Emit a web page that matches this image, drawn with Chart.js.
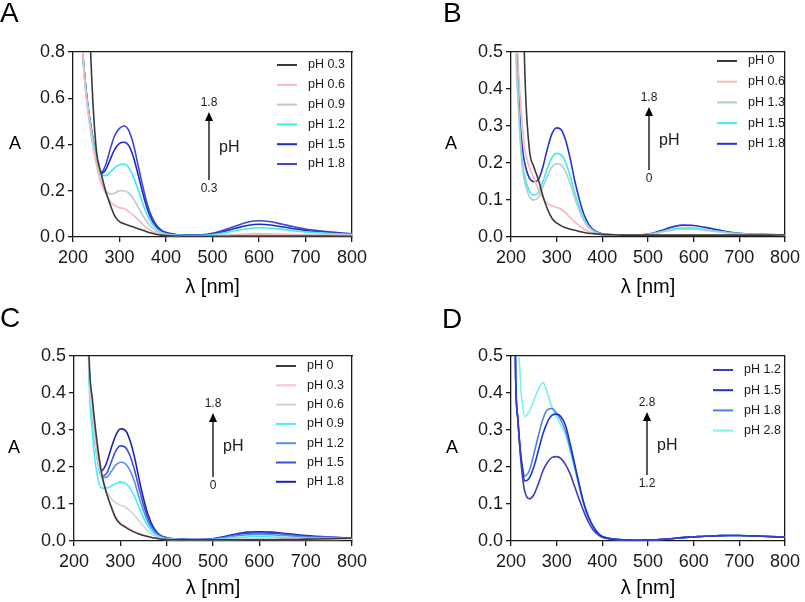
<!DOCTYPE html>
<html>
<head>
<meta charset="utf-8">
<script src="https://cdn.jsdelivr.net/npm/chart.js@4/dist/chart.umd.min.js"></script>
<style>
  html, body { margin: 0; padding: 0; background: #fff; }
  #wrap { position: relative; width: 805px; height: 602px; overflow: hidden; }
  canvas { position: absolute; }
</style>
</head>
<body>
<div id="wrap">
  <canvas id="cA" width="400" height="300" style="left:0;top:0"></canvas>
  <canvas id="cB" width="405" height="300" style="left:400px;top:0"></canvas>
  <canvas id="cC" width="400" height="302" style="left:0;top:300px"></canvas>
  <canvas id="cD" width="405" height="302" style="left:400px;top:300px"></canvas>
</div>
<script>
// wavelength grid (nm), shared by all panels
const wavelengths = [205,210,215,220,225,230,240,250,260,270,280,290,300,310,320,330,340,350,360,370,380,390,400,425,450,475,500,525,550,575,600,625,650,675,700,750,800];

// Panel A
const labelsA = ['pH 0.3','pH 0.6','pH 0.9','pH 1.2','pH 1.5','pH 1.8'];
const a_ph03 = [3,3,3,2.5,1.8,1.3,0.7,0.38,0.28,0.2,0.14,0.09,0.066,0.057,0.05,0.043,0.036,0.029,0.022,0.016,0.011,0.008,0.006,0.004,0.003,0.003,0.003,0.003,0.004,0.004,0.004,0.004,0.004,0.004,0.004,0.004,0.003];
const a_ph06 = [3,2,1.3,0.85,0.68,0.58,0.43,0.32,0.235,0.19,0.155,0.135,0.127,0.122,0.11,0.094,0.075,0.055,0.038,0.025,0.016,0.01,0.007,0.005,0.004,0.004,0.005,0.006,0.008,0.009,0.01,0.009,0.009,0.008,0.008,0.007,0.006];
const a_ph09 = [3,2,1.3,0.85,0.68,0.58,0.43,0.32,0.24,0.2,0.186,0.19,0.2,0.2,0.19,0.165,0.13,0.093,0.063,0.04,0.025,0.016,0.01,0.006,0.005,0.005,0.006,0.008,0.011,0.013,0.014,0.013,0.012,0.011,0.01,0.009,0.008];
const a_ph12 = [3,2,1.3,0.85,0.7,0.6,0.46,0.35,0.272,0.265,0.28,0.3,0.312,0.315,0.3,0.26,0.205,0.145,0.093,0.057,0.034,0.021,0.014,0.008,0.006,0.007,0.01,0.018,0.028,0.036,0.04,0.038,0.033,0.027,0.022,0.016,0.012];
const a_ph15 = [3,2,1.3,0.85,0.7,0.6,0.46,0.35,0.275,0.29,0.335,0.38,0.405,0.41,0.395,0.345,0.27,0.19,0.12,0.072,0.043,0.026,0.017,0.009,0.007,0.008,0.013,0.024,0.038,0.05,0.055,0.052,0.044,0.036,0.028,0.019,0.013];
const a_ph18 = [3,2,1.3,0.85,0.7,0.6,0.46,0.35,0.278,0.31,0.38,0.44,0.47,0.48,0.46,0.4,0.31,0.22,0.14,0.085,0.05,0.03,0.02,0.01,0.008,0.009,0.016,0.03,0.048,0.064,0.07,0.066,0.055,0.044,0.034,0.022,0.014];

// Panel B
const labelsB = ['pH 0','pH 0.6','pH 1.3','pH 1.5','pH 1.8'];
const b_ph0  = [3,3,2.5,1.5,0.8,0.46,0.24,0.19,0.155,0.11,0.075,0.05,0.038,0.03,0.025,0.021,0.018,0.015,0.012,0.01,0.009,0.008,0.007,0.006,0.005,0.005,0.005,0.005,0.005,0.005,0.005,0.005,0.005,0.005,0.005,0.005,0.006];
const b_ph06 = [2,0.8,0.5,0.38,0.3,0.24,0.19,0.16,0.128,0.105,0.09,0.084,0.08,0.075,0.065,0.052,0.04,0.03,0.021,0.015,0.01,0.008,0.006,0.005,0.005,0.005,0.005,0.005,0.005,0.005,0.005,0.005,0.005,0.005,0.005,0.005,0.005];
const b_ph13 = [2,0.6,0.38,0.26,0.185,0.15,0.11,0.1,0.107,0.135,0.165,0.19,0.198,0.195,0.175,0.143,0.104,0.07,0.043,0.026,0.016,0.01,0.007,0.005,0.005,0.005,0.006,0.012,0.018,0.021,0.021,0.018,0.014,0.011,0.008,0.006,0.005];
const b_ph15 = [2,0.65,0.41,0.28,0.2,0.165,0.125,0.113,0.12,0.15,0.187,0.215,0.226,0.222,0.2,0.163,0.118,0.079,0.048,0.029,0.017,0.011,0.008,0.006,0.005,0.005,0.007,0.013,0.02,0.024,0.024,0.02,0.016,0.012,0.009,0.007,0.005];
const b_ph18 = [2,0.7,0.45,0.31,0.24,0.2,0.16,0.15,0.155,0.19,0.24,0.28,0.295,0.29,0.26,0.21,0.15,0.1,0.06,0.035,0.02,0.013,0.009,0.006,0.005,0.005,0.008,0.016,0.026,0.032,0.031,0.026,0.02,0.014,0.01,0.007,0.005];

// Panel C
const labelsC = ['pH 0','pH 0.3','pH 0.6','pH 0.9','pH 1.2','pH 1.5','pH 1.8'];
const c_ph0  = [3,3,3,2.5,1.4,0.62,0.38,0.265,0.18,0.13,0.093,0.062,0.046,0.038,0.03,0.024,0.019,0.015,0.012,0.009,0.007,0.005,0.004,0.003,0.003,0.003,0.003,0.003,0.003,0.003,0.003,0.003,0.004,0.004,0.005,0.006,0.008];
const c_ph03 = [3,3,3,2.5,1.4,0.62,0.37,0.255,0.18,0.132,0.096,0.067,0.05,0.041,0.033,0.026,0.02,0.016,0.012,0.009,0.007,0.005,0.004,0.003,0.003,0.003,0.003,0.003,0.003,0.004,0.004,0.004,0.004,0.004,0.004,0.004,0.005];
const c_ph06 = [3,3,3,2.5,1.4,0.62,0.34,0.225,0.17,0.135,0.115,0.103,0.097,0.092,0.083,0.07,0.055,0.04,0.027,0.017,0.011,0.007,0.005,0.004,0.003,0.003,0.003,0.004,0.005,0.006,0.006,0.006,0.006,0.005,0.005,0.005,0.005];
const c_ph09 = [3,3,3,2.5,1.4,0.6,0.29,0.18,0.143,0.143,0.148,0.155,0.159,0.157,0.145,0.122,0.092,0.063,0.04,0.024,0.014,0.009,0.006,0.004,0.003,0.003,0.004,0.006,0.009,0.011,0.012,0.011,0.01,0.009,0.008,0.007,0.006];
const c_ph12 = [3,3,3,2.5,1.4,0.61,0.33,0.225,0.172,0.172,0.187,0.205,0.213,0.21,0.193,0.162,0.12,0.082,0.05,0.03,0.017,0.01,0.007,0.004,0.004,0.004,0.005,0.009,0.014,0.017,0.018,0.017,0.015,0.013,0.011,0.009,0.007];
const c_ph15 = [3,3,3,2.5,1.4,0.61,0.34,0.23,0.175,0.182,0.212,0.243,0.257,0.254,0.233,0.195,0.145,0.098,0.06,0.035,0.02,0.012,0.008,0.005,0.004,0.004,0.006,0.011,0.017,0.021,0.022,0.021,0.019,0.016,0.013,0.01,0.008];
const c_ph18 = [3,3,3,2.5,1.4,0.61,0.35,0.24,0.19,0.21,0.25,0.285,0.303,0.3,0.275,0.23,0.17,0.115,0.07,0.04,0.022,0.013,0.009,0.005,0.004,0.004,0.006,0.012,0.019,0.024,0.025,0.024,0.021,0.018,0.015,0.011,0.008];

// Panel D
const labelsD = ['pH 1.2','pH 1.5','pH 1.8','pH 2.8'];
const d_ph12 = [1.2,0.45,0.33,0.24,0.175,0.135,0.114,0.125,0.155,0.19,0.213,0.226,0.228,0.222,0.205,0.18,0.145,0.11,0.078,0.05,0.03,0.018,0.01,0.004,0.003,0.002,0.003,0.004,0.006,0.009,0.011,0.013,0.014,0.015,0.015,0.013,0.01];
const d_ph15 = [1.2,0.46,0.33,0.25,0.195,0.162,0.17,0.2,0.245,0.29,0.322,0.34,0.343,0.335,0.31,0.26,0.205,0.15,0.1,0.065,0.04,0.022,0.012,0.005,0.003,0.002,0.003,0.004,0.006,0.009,0.011,0.013,0.014,0.015,0.015,0.013,0.01];
const d_ph18 = [1.2,0.46,0.33,0.25,0.2,0.176,0.19,0.235,0.285,0.33,0.355,0.358,0.345,0.325,0.295,0.25,0.2,0.145,0.098,0.063,0.038,0.021,0.012,0.005,0.003,0.002,0.003,0.004,0.006,0.009,0.011,0.013,0.014,0.015,0.015,0.013,0.01];
const d_ph28 = [3,2,0.7,0.45,0.37,0.337,0.35,0.38,0.41,0.428,0.4,0.36,0.335,0.31,0.285,0.24,0.192,0.143,0.097,0.062,0.037,0.021,0.012,0.005,0.003,0.002,0.003,0.004,0.006,0.009,0.011,0.013,0.014,0.015,0.015,0.013,0.01];

const xTicks = [200,300,400,500,600,700,800];

const FONT = '"Liberation Sans", Arial, Helvetica, sans-serif';
const INK = '#1a1a1a';

// panel letter, upright "A", x title, legend, pH arrow
const extras = {
  id: 'extras',
  afterDraw(chart) {
    const o = chart.options.plugins.extras;
    const ctx = chart.ctx;
    const a = chart.chartArea;
    ctx.save();
    ctx.fillStyle = '#000';
    ctx.textBaseline = 'middle';
    ctx.textAlign = 'left';
    ctx.font = '28px ' + FONT;
    ctx.fillText(o.letter, o.letterX, o.letterY);

    ctx.textAlign = 'center';
    ctx.font = '18px ' + FONT;
    ctx.fillText('A', o.yTitleX, (a.top + a.bottom) / 2);
    ctx.font = '20px ' + FONT;
    ctx.fillText('λ [nm]', (a.left + a.right) / 2, o.xTitleY);

    // legend
    ctx.font = '12.5px ' + FONT;
    ctx.textAlign = 'left';
    chart.data.datasets.forEach((ds, i) => {
      const y = o.legY + i * o.legStep;
      ctx.strokeStyle = ds.borderColor;
      ctx.lineWidth = 2;
      ctx.beginPath();
      ctx.moveTo(o.legX, y);
      ctx.lineTo(o.legX + 20, y);
      ctx.stroke();
      ctx.fillStyle = INK;
      ctx.fillText(ds.label, o.legX + 31, y);
    });

    // pH arrow
    const ax = o.arrowX;
    ctx.strokeStyle = '#000';
    ctx.fillStyle = '#000';
    ctx.lineWidth = 1.3;
    ctx.beginPath();
    ctx.moveTo(ax, o.arrowBottom);
    ctx.lineTo(ax, o.arrowTip + 8);
    ctx.stroke();
    ctx.beginPath();
    ctx.moveTo(ax, o.arrowTip);
    ctx.lineTo(ax - 4, o.arrowTip + 9);
    ctx.lineTo(ax + 4, o.arrowTip + 9);
    ctx.closePath();
    ctx.fill();
    ctx.font = '12px ' + FONT;
    ctx.textAlign = 'center';
    ctx.fillStyle = INK;
    ctx.fillText(o.phHigh, ax, o.arrowTip - 9);
    ctx.fillText(o.phLow, ax, o.arrowBottom + 9);
    ctx.font = '16px ' + FONT;
    ctx.textAlign = 'left';
    ctx.fillText('pH', ax + 10, (o.arrowTip + o.arrowBottom) / 2 + 2);
    ctx.restore();
  }
};

function makePanel(id, area, yMax, yStep, labels, series, colors, ex) {
  const canvas = document.getElementById(id);
  const W = canvas.width, H = canvas.height;
  const datasets = series.map((vals, i) => ({
    label: labels[i],
    data: wavelengths.map((w, j) => ({ x: w, y: vals[j] })),
    borderColor: colors[i],
    borderWidth: 1.6,
    pointRadius: 0,
    cubicInterpolationMode: 'monotone',
    fill: false
  }));
  // bare axes on top and right close the plot box
  const frameAxis = pos => ({
    type: 'linear', position: pos, display: true,
    min: pos === 'top' ? 200 : 0, max: pos === 'top' ? 800 : yMax,
    ticks: { display: false },
    grid: { display: false, drawTicks: false },
    border: { display: true, color: INK, width: 1.3 },
    afterFit: s => { if (pos === 'top') s.height = 0; else s.width = 0; }
  });
  return new Chart(canvas, {
    type: 'line',
    data: { datasets },
    options: {
      responsive: false,
      animation: false,
      events: [],
      layout: { padding: { top: area.top, right: W - area.right, left: 0, bottom: 0 } },
      scales: {
        x: {
          type: 'linear', min: 200, max: 800,
          afterBuildTicks: s => { s.ticks = xTicks.map(v => ({ value: v })); },
          afterFit: s => { s.height = H - area.bottom; },
          grid: { drawOnChartArea: false, tickLength: 5, color: INK, lineWidth: 1.3 },
          border: { color: INK, width: 1.3 },
          ticks: { color: INK, padding: 5, maxRotation: 0, autoSkip: false, font: { family: FONT, size: 18 } }
        },
        y: {
          min: 0, max: yMax,
          ticks: { stepSize: yStep, color: INK, padding: 3, font: { family: FONT, size: 18 }, callback: v => v.toFixed(1) },
          afterFit: s => { s.width = area.left; },
          grid: { drawOnChartArea: false, tickLength: 5, color: INK, lineWidth: 1.3 },
          border: { color: INK, width: 1.3 }
        },
        xTop: frameAxis('top'),
        yRight: frameAxis('right')
      },
      plugins: { legend: { display: false }, tooltip: { enabled: false }, extras: ex }
    },
    plugins: [extras]
  });
}

makePanel('cA', { left: 73, right: 352, top: 52, bottom: 237 }, 0.8, 0.2, labelsA,
  [a_ph03, a_ph06, a_ph09, a_ph12, a_ph15, a_ph18],
  ['#3a3a3a', '#f7b8bc', '#b5cbcb', '#3ee8f5', '#1f2cc4', '#3d47d6'],
  { letter: 'A', letterX: 0, letterY: 14, yTitleX: 15, xTitleY: 287,
    legX: 277, legY: 65, legStep: 19.8,
    arrowX: 209, arrowTip: 112, arrowBottom: 180, phHigh: '1.8', phLow: '0.3' });

makePanel('cB', { left: 111, right: 390, top: 52, bottom: 237 }, 0.5, 0.1, labelsB,
  [b_ph0, b_ph06, b_ph13, b_ph15, b_ph18],
  ['#3a3a3a', '#f7b8bc', '#b5cbcb', '#3ee8f5', '#2535cc'],
  { letter: 'B', letterX: 43, letterY: 14, yTitleX: 51, xTitleY: 287,
    legX: 317, legY: 61, legStep: 20.7,
    arrowX: 249, arrowTip: 107, arrowBottom: 170, phHigh: '1.8', phLow: '0' });

makePanel('cC', { left: 74, right: 352, top: 56, bottom: 241 }, 0.5, 0.1, labelsC,
  [c_ph0, c_ph03, c_ph06, c_ph09, c_ph12, c_ph15, c_ph18],
  ['#3a3a3a', '#f7c4c8', '#c8d8d8', '#44eefa', '#5b8ef0', '#3550e0', '#1c22b0'],
  { letter: 'C', letterX: 0, letterY: 19, yTitleX: 14, xTitleY: 288,
    legX: 276, legY: 66, legStep: 19.3,
    arrowX: 213, arrowTip: 113, arrowBottom: 177, phHigh: '1.8', phLow: '0' });

makePanel('cD', { left: 111, right: 388, top: 56, bottom: 241 }, 0.5, 0.1, labelsD,
  [d_ph12, d_ph15, d_ph18, d_ph28],
  ['#3a3cc4', '#1f34c8', '#4f80ee', '#7af0f2'],
  { letter: 'D', letterX: 42, letterY: 20, yTitleX: 52, xTitleY: 288,
    legX: 313, legY: 70, legStep: 20.2,
    arrowX: 247, arrowTip: 112, arrowBottom: 175, phHigh: '2.8', phLow: '1.2' });
</script>
</body>
</html>
